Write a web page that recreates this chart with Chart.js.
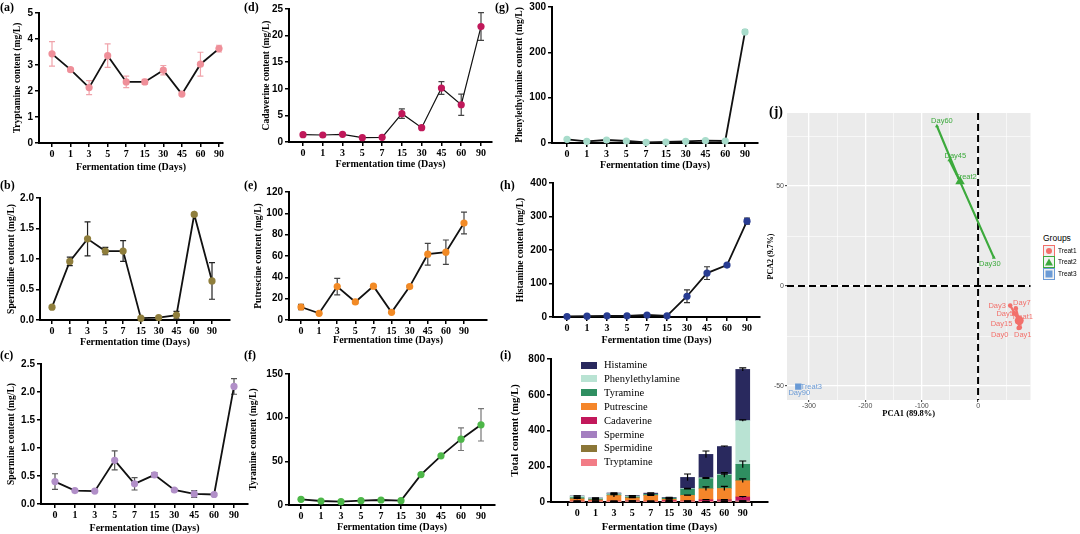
<!DOCTYPE html>
<html>
<head>
<meta charset="utf-8">
<script src="https://cdn.jsdelivr.net/npm/chart.js@4/dist/chart.umd.min.js"></script>
<style>
body{margin:0;width:1080px;height:534px;background:#fff;position:relative;overflow:hidden;font-family:"Liberation Serif",serif;}
canvas{position:absolute;}
.panel{position:absolute;font:bold 12px "Liberation Serif";line-height:12px;color:#000;}
.fila{position:absolute;height:14px;font:10.5px "Liberation Serif";line-height:14px;color:#000;white-space:nowrap;}
.fila span{display:inline-block;width:16px;height:7px;margin-right:7px;vertical-align:-0.5px;}
.grp{position:absolute;font:6.5px "Liberation Sans";color:#000;line-height:12px;}
.caja{position:absolute;width:10px;height:10px;border:1.5px solid;background:#f2f2f2;}
</style>
</head>
<body>
<script>
// dias de fermentacion (eje x de todos los paneles)
var dias = ["0", "1", "3", "5", "7", "15", "30", "45", "60", "90"];

// medias y desviaciones (mg/L)
var triptamina   = [3.43, 2.82, 2.13, 3.36, 2.35, 2.35, 2.80, 1.88, 3.03, 3.63];
var triptaminaDE = [0.47, 0.05, 0.27, 0.45, 0.22, 0.10, 0.18, 0.05, 0.46, 0.13];
var espermidina   = [0.21, 0.96, 1.33, 1.13, 1.13, 0.03, 0.04, 0.08, 1.73, 0.64];
var espermidinaDE = [0.01, 0.07, 0.28, 0.06, 0.17, 0.01, 0.01, 0.06, 0.02, 0.30];
var espermina   = [0.40, 0.24, 0.23, 0.78, 0.36, 0.52, 0.25, 0.18, 0.17, 2.10];
var esperminaDE = [0.14, 0.01, 0.01, 0.17, 0.11, 0.04, 0.02, 0.06, 0.02, 0.14];
var cadaverina   = [1.38, 1.32, 1.44, 0.81, 0.88, 5.33, 2.69, 10.15, 7.0, 21.7];
var cadaverinaDE = [0.1, 0.1, 0.1, 0.1, 0.1, 0.9, 0.2, 1.2, 2.0, 2.6];
var putrescina   = [12.2, 6.3, 31.3, 16.9, 31.7, 7.2, 31.3, 61.7, 63.6, 90.9];
var putrescinaDE = [2.5, 0.5, 7.8, 1.0, 0.8, 1.0, 1.0, 10.2, 11.4, 10.2];
var tiramina   = [6.5, 4.6, 3.8, 5.0, 5.7, 5.0, 34.8, 56.3, 75.4, 91.8];
var tiraminaDE = [0.5, 0.3, 0.3, 0.3, 0.3, 0.3, 1.5, 1.5, 13.0, 18.5];
var feniletilamina   = [8.1, 3.7, 6.6, 4.4, 1.5, 2.2, 3.7, 5.1, 4.4, 245];
var feniletilaminaDE = [1.0, 0.5, 0.5, 0.5, 0.3, 0.3, 0.5, 0.5, 0.5, 4.0];
var histamina   = [1.5, 2.5, 3.5, 3.5, 6.0, 3.5, 62, 131, 155, 286];
var histaminaDE = [0.5, 0.5, 0.5, 0.5, 1.0, 0.5, 19, 19, 3, 9];

// nombres para la grafica apilada (de abajo hacia arriba)
var aminas = ["Tryptamine", "Spermidine", "Spermine", "Cadaverine", "Putrescine", "Tyramine", "Phenylethylamine", "Histamine"];

// PCA: puntos por grupo y centroides
var grupos = ["Treat1", "Treat2", "Treat3"];
var pcaDias1 = ["Day0", "Day1", "Day3", "Day5", "Day7", "Day15"];
var pcaX1 = [72, 74, 57, 64, 67, 70];
var pcaY1 = [-21, -20.8, -9.8, -13.7, -11.2, -18];
var pcaDias2 = ["Day30", "Day45", "Day60"];
var pcaX2 = [28, -51, -73];
var pcaY2 = [14.2, 63, 80];
var pcaDias3 = ["Day90"];
var pcaX3 = [-319];
var pcaY3 = [-50.3];
var centroX = [73, -32, -319];
var centroY = [-17.3, 52.2, -50.3];

Chart.defaults.font.family = "Liberation Serif";
Chart.defaults.color = "#000";

document.addEventListener("DOMContentLoaded", function(){
    graficarTodo();
});

function crearLienzo(izq, sup, ancho, alto){
    var c = document.createElement("canvas");
    c.width = ancho;
    c.height = alto;
    c.style.left = izq + "px";
    c.style.top = sup + "px";
    document.body.appendChild(c);
    return c;
}

function etiquetaPanel(texto, izq, sup, tam){
    var d = document.createElement("div");
    d.className = "panel";
    d.textContent = texto;
    d.style.left = izq + "px";
    d.style.top = sup + "px";
    if(tam){ d.style.fontSize = tam + "px"; d.style.lineHeight = tam + "px"; }
    document.body.appendChild(d);
}

// barras de error para las lineas (debajo de la linea y los puntos)
var barrasError = {
    id: "barrasError",
    beforeDatasetsDraw: function(chart){
        var ctx = chart.ctx;
        var ey = chart.scales.y;
        chart.data.datasets.forEach(function(ds, k){
            if(!ds.desv) return;
            var meta = chart.getDatasetMeta(k);
            ctx.save();
            ctx.strokeStyle = ds.colorError;
            ctx.lineWidth = 1.2;
            meta.data.forEach(function(pt, i){
                var v = ds.data[i].y;
                var d = ds.desv[i];
                var y1 = ey.getPixelForValue(v + d);
                var y2 = ey.getPixelForValue(Math.max(v - d, 0));
                if(y2 - y1 < 2) return;
                ctx.beginPath();
                ctx.moveTo(pt.x, y1); ctx.lineTo(pt.x, y2);
                ctx.moveTo(pt.x - 3, y1); ctx.lineTo(pt.x + 3, y1);
                ctx.moveTo(pt.x - 3, y2); ctx.lineTo(pt.x + 3, y2);
                ctx.stroke();
            });
            ctx.restore();
        });
    }
};

// barras de error en la grafica apilada (arriba de cada segmento)
var barrasErrorApiladas = {
    id: "barrasErrorApiladas",
    afterDatasetsDraw: function(chart){
        var ctx = chart.ctx;
        var ey = chart.scales.y;
        var acumulado = dias.map(function(){ return 0; });
        ctx.save();
        ctx.strokeStyle = "#000";
        ctx.lineWidth = 1.2;
        chart.data.datasets.forEach(function(ds, k){
            var meta = chart.getDatasetMeta(k);
            meta.data.forEach(function(barra, i){
                acumulado[i] += ds.data[i].y;
                var d = ds.desv[i];
                var y1 = ey.getPixelForValue(acumulado[i] + d);
                var y2 = ey.getPixelForValue(Math.max(acumulado[i] - d, 0));
                ctx.beginPath();
                ctx.moveTo(barra.x, y1); ctx.lineTo(barra.x, y2);
                ctx.moveTo(barra.x - 3.5, y1); ctx.lineTo(barra.x + 3.5, y1);
                ctx.stroke();
            });
        });
        ctx.restore();
    }
};

function ejesComunes(p, anchoY, altoX, tituloY, tamTituloX){
    var sep = (p.tic9 - p.tic0) / 9;
    var tamY = 9.5;
    return {
        x: {
            type: "linear",
            min: -(p.tic0 - p.ejeX) / sep,
            max: 9 + (p.finX - p.tic9) / sep,
            afterBuildTicks: function(s){ s.ticks = dias.map(function(d, i){ return {value: i}; }); },
            afterFit: function(s){ s.height = altoX; },
            ticks: {
                autoSkip: false, maxRotation: 0, padding: 1,
                font: {family: "Liberation Serif", weight: "bold", size: 10},
                callback: function(v){ return dias[v]; }
            },
            grid: {drawOnChartArea: false, tickLength: 4, color: "#000", lineWidth: 1.5},
            border: {color: "#000", width: 2},
            title: {
                display: true, text: "Fermentation time (Days)",
                font: {family: "Liberation Serif", weight: "bold", size: tamTituloX},
                padding: {top: 0, bottom: altoX - p.offX - tamTituloX * 0.6}
            }
        },
        y: {
            min: 0, max: p.max,
            afterFit: function(s){ s.width = anchoY; },
            ticks: {
                stepSize: p.paso, padding: 2,
                font: {family: "Liberation Sans", weight: "bold", size: 10},
                callback: function(v){ return p.paso < 1 ? v.toFixed(1) : String(v); }
            },
            grid: {drawOnChartArea: false, tickLength: 4, color: "#000", lineWidth: 1.5},
            border: {color: "#000", width: 2},
            title: {
                display: true, text: tituloY,
                font: {family: "Liberation Serif", weight: "bold", size: tamY},
                padding: {top: anchoY - p.offY - tamY * 0.6, bottom: 0}
            }
        }
    };
}

function graficarLinea(p, valores, desv, colorPunto, colorError, tituloY, grosor){
    var anchoY = p.offY + 9;
    var altoX = p.offX + 8;
    var izq = p.ejeX - anchoY;
    var sup = p.arriba - 10;
    var lienzo = crearLienzo(izq, sup, p.finX - izq + 8, p.ejeY - sup + altoX);
    var puntos = valores.map(function(v, i){ return {x: i, y: v}; });

    new Chart(lienzo, {
        type: "line",
        data: {
            datasets: [{
                data: puntos,
                borderColor: "#111",
                borderWidth: grosor || 1.8,
                pointRadius: 3.6,
                pointBackgroundColor: colorPunto,
                pointBorderColor: colorPunto,
                pointBorderWidth: 0,
                tension: 0,
                clip: false,
                desv: desv,
                colorError: colorError
            }]
        },
        options: {
            responsive: false, animation: false, devicePixelRatio: 1,
            layout: {padding: {top: 10, right: 8, left: 0, bottom: 0}},
            plugins: {legend: {display: false}, tooltip: {enabled: false}},
            scales: ejesComunes(p, anchoY, altoX, tituloY, 10)
        },
        plugins: [barrasError]
    });
}

function graficarApilada(p){
    var series = [triptamina, espermidina, espermina, cadaverina, putrescina, tiramina, feniletilamina, histamina];
    var seriesDE = [triptaminaDE, espermidinaDE, esperminaDE, cadaverinaDE, putrescinaDE, tiraminaDE, feniletilaminaDE, histaminaDE];
    var colores = ["#F27C86", "#8B7637", "#A47FC0", "#C2185B", "#F5862A", "#2F8F61", "#B9E3D3", "#29295E"];

    var anchoY = p.offY + 9;
    var altoX = p.offX + 8;
    var izq = p.ejeX - anchoY;
    var sup = p.arriba - 10;
    var lienzo = crearLienzo(izq, sup, p.finX - izq + 8, p.ejeY - sup + altoX);

    var conjuntos = aminas.map(function(nombre, k){
        return {
            label: nombre,
            data: series[k].map(function(v, i){ return {x: i, y: v}; }),
            backgroundColor: colores[k],
            barThickness: 14,
            grouped: false,
            desv: seriesDE[k]
        };
    });

    var escalas = ejesComunes(p, anchoY, altoX, "Total content (mg/L)", 10.5);
    escalas.y.stacked = true;
    escalas.y.title.font.size = 10.5;

    new Chart(lienzo, {
        type: "bar",
        data: {datasets: conjuntos},
        options: {
            responsive: false, animation: false, devicePixelRatio: 1,
            layout: {padding: {top: 10, right: 8, left: 0, bottom: 0}},
            plugins: {legend: {display: false}, tooltip: {enabled: false}},
            scales: escalas
        },
        plugins: [barrasErrorApiladas]
    });

    // leyenda dentro del area, en orden inverso
    var i;
    for(i = aminas.length - 1; i >= 0; i--){
        var fila = document.createElement("div");
        fila.className = "fila";
        fila.style.left = "581px";
        fila.style.top = (358 + (aminas.length - 1 - i) * 13.9) + "px";
        var muestra = document.createElement("span");
        muestra.style.background = colores[i];
        fila.appendChild(muestra);
        fila.appendChild(document.createTextNode(aminas[i]));
        document.body.appendChild(fila);
    }
}

function graficarPCA(){
    var colorGrupo = ["#F2706B", "#3DAA3D", "#6B9BD6"];
    var estilos = ["circle", "triangle", "rect"];
    var diasG = [pcaDias1, pcaDias2, pcaDias3];
    var xs = [pcaX1, pcaX2, pcaX3];
    var ys = [pcaY1, pcaY2, pcaY3];
    // desplazamientos de las etiquetas en pixeles
    var dxDias = [[-19, 3, -13, -9, 6, -16], [-4, 6, 5], [1]];
    var dyDias = [[7, 7, 0, 1, -5, 2], [6, -4, -5], [6]];
    var dxCentro = [3, 6, 13];
    var dyCentro = [-4, -5, 0];

    var conjuntos = [];
    grupos.forEach(function(g, k){
        var estrella = [];
        xs[k].forEach(function(x, i){
            estrella.push({x: centroX[k], y: centroY[k]});
            estrella.push({x: x, y: ys[k][i]});
        });
        conjuntos.push({
            data: estrella, showLine: true, borderColor: colorGrupo[k], borderWidth: 2.2, pointRadius: 0
        });
        conjuntos.push({
            data: xs[k].map(function(x, i){ return {x: x, y: ys[k][i]}; }),
            pointStyle: estilos[k], pointRadius: 2.3, backgroundColor: colorGrupo[k], borderColor: colorGrupo[k], borderWidth: 0
        });
        conjuntos.push({
            data: [{x: centroX[k], y: centroY[k]}],
            pointStyle: estilos[k], pointRadius: k === 1 ? 5.5 : 4.5, backgroundColor: colorGrupo[k], borderColor: colorGrupo[k], borderWidth: 0
        });
    });

    var esMayorX = function(v){ return v % 100 === 0; };
    var esMayorY = function(v){ return v % 50 === 0; };

    var fondoYEtiquetas = {
        id: "fondoYEtiquetas",
        beforeDraw: function(chart){
            var a = chart.chartArea;
            chart.ctx.save();
            chart.ctx.fillStyle = "#EBEBEB";
            chart.ctx.fillRect(a.left, a.top, a.right - a.left, a.bottom - a.top);
            chart.ctx.restore();
        },
        beforeDatasetsDraw: function(chart){
            var ctx = chart.ctx, a = chart.chartArea;
            var x0 = chart.scales.x.getPixelForValue(0);
            var y0 = chart.scales.y.getPixelForValue(0);
            ctx.save();
            ctx.setLineDash([7, 4]);
            ctx.lineWidth = 2;
            ctx.strokeStyle = "#000";
            ctx.beginPath();
            ctx.moveTo(x0, a.top); ctx.lineTo(x0, a.bottom);
            ctx.moveTo(a.left, y0); ctx.lineTo(a.right, y0);
            ctx.stroke();
            ctx.restore();
        },
        afterDatasetsDraw: function(chart){
            var ctx = chart.ctx, sx = chart.scales.x, sy = chart.scales.y;
            ctx.save();
            ctx.font = "7.5px 'Liberation Sans'";
            ctx.textAlign = "center";
            ctx.textBaseline = "middle";
            grupos.forEach(function(g, k){
                ctx.fillStyle = colorGrupo[k];
                diasG[k].forEach(function(d, i){
                    ctx.fillText(d, sx.getPixelForValue(xs[k][i]) + dxDias[k][i], sy.getPixelForValue(ys[k][i]) + dyDias[k][i]);
                });
                ctx.fillText(g, sx.getPixelForValue(centroX[k]) + dxCentro[k], sy.getPixelForValue(centroY[k]) + dyCentro[k]);
            });
            ctx.restore();
        }
    };

    var lienzo = crearLienzo(760, 103, 276, 317);
    new Chart(lienzo, {
        type: "scatter",
        data: {datasets: conjuntos},
        options: {
            responsive: false, animation: false, devicePixelRatio: 1,
            layout: {padding: {top: 10, right: 3, left: 0, bottom: 0}},
            plugins: {legend: {display: false}, tooltip: {enabled: false}},
            scales: {
                x: {
                    min: -339, max: 93,
                    afterBuildTicks: function(s){ s.ticks = [-300, -250, -200, -150, -100, -50, 0, 50].map(function(v){ return {value: v}; }); },
                    afterFit: function(s){ s.height = 20; },
                    ticks: {
                        padding: 0, color: "#4D4D4D", font: {family: "Liberation Sans", size: 7},
                        callback: function(v){ return esMayorX(v) ? String(v) : ""; }
                    },
                    grid: {
                        color: "#fff", tickLength: 2,
                        lineWidth: function(c){ return c.tick && esMayorX(c.tick.value) ? 1.3 : 0.6; },
                        tickColor: function(c){ return c.tick && esMayorX(c.tick.value) ? "#333" : "rgba(0,0,0,0)"; },
                        tickWidth: 1
                    },
                    border: {display: false},
                    title: {display: true, text: "PCA1 (89.8%)", font: {family: "Liberation Serif", weight: "bold", size: 8.5}, padding: {top: 0, bottom: 1.5}}
                },
                y: {
                    min: -57, max: 86.5,
                    afterBuildTicks: function(s){ s.ticks = [-50, -25, 0, 25, 50, 75].map(function(v){ return {value: v}; }); },
                    afterFit: function(s){ s.width = 27; },
                    ticks: {
                        padding: 1, color: "#4D4D4D", font: {family: "Liberation Sans", size: 7},
                        callback: function(v){ return esMayorY(v) ? String(v) : ""; }
                    },
                    grid: {
                        color: "#fff", tickLength: 2,
                        lineWidth: function(c){ return c.tick && esMayorY(c.tick.value) ? 1.3 : 0.6; },
                        tickColor: function(c){ return c.tick && esMayorY(c.tick.value) ? "#333" : "rgba(0,0,0,0)"; },
                        tickWidth: 1
                    },
                    border: {display: false},
                    title: {display: true, text: "PCA2 (9.7%)", font: {family: "Liberation Serif", weight: "bold", size: 8}, padding: {top: 6, bottom: 0}}
                }
            }
        },
        plugins: [fondoYEtiquetas]
    });

    // leyenda de grupos
    var t = document.createElement("div");
    t.className = "grp";
    t.style.cssText = "left:1043px;top:232px;font-size:8.5px;";
    t.textContent = "Groups";
    document.body.appendChild(t);
    var formas = ["border-radius:50%;width:6px;height:6px;", "width:0;height:0;border-left:4px solid transparent;border-right:4px solid transparent;border-bottom:7px solid ", "width:7px;height:7px;"];
    grupos.forEach(function(g, k){
        var caja = document.createElement("div");
        caja.className = "caja";
        caja.style.left = "1043px";
        caja.style.top = (245 + k * 11.3) + "px";
        caja.style.borderColor = colorGrupo[k];
        var forma = document.createElement("div");
        forma.style.cssText = "position:absolute;left:50%;top:50%;transform:translate(-50%,-50%);" +
            (k === 1 ? formas[1] + colorGrupo[k] + ";" : formas[k] + "background:" + colorGrupo[k] + ";");
        caja.appendChild(forma);
        document.body.appendChild(caja);
        var texto = document.createElement("div");
        texto.className = "grp";
        texto.style.left = "1058px";
        texto.style.top = (245 + k * 11.3) + "px";
        texto.textContent = g;
        document.body.appendChild(texto);
    });
}

function graficarTodo(){
    graficarLinea({ejeX: 39, finX: 223, tic0: 52, tic9: 219, arriba: 13, ejeY: 143, max: 5, paso: 1, offY: 21, offX: 24},
        triptamina, triptaminaDE, "#EF8F99", "#F0A3AA", "Tryptamine content (mg/L)");
    graficarLinea({ejeX: 40, finX: 230, tic0: 52, tic9: 212, arriba: 198, ejeY: 320, max: 2, paso: 0.5, offY: 28, offX: 22},
        espermidina, espermidinaDE, "#8F7E3C", "#222", "Spermidine content (mg/L)");
    graficarLinea({ejeX: 41, finX: 248, tic0: 55, tic9: 234, arriba: 364, ejeY: 504, max: 2.5, paso: 0.5, offY: 29, offX: 24},
        espermina, esperminaDE, "#B18FC8", "#555", "Spermine content (mg/L)");
    graficarLinea({ejeX: 289, finX: 492, tic0: 303, tic9: 481, arriba: 9, ejeY: 142, max: 25, paso: 5, offY: 22, offX: 22},
        cadaverina, cadaverinaDE, "#C0185A", "#444", "Cadaverine content (mg/L)", 1.2);
    graficarLinea({ejeX: 289, finX: 487, tic0: 301, tic9: 464, arriba: 192, ejeY: 320, max: 120, paso: 20, offY: 30, offX: 20},
        putrescina, putrescinaDE, "#F28A25", "#444", "Putrescine content (mg/L)");
    graficarLinea({ejeX: 289, finX: 495, tic0: 301, tic9: 481, arriba: 374, ejeY: 505, max: 150, paso: 50, offY: 35, offX: 22},
        tiramina, tiraminaDE, "#4DB748", "#777", "Tyramine content (mg/L)");
    graficarLinea({ejeX: 552, finX: 758, tic0: 567, tic9: 745, arriba: 7, ejeY: 143, max: 300, paso: 100, offY: 32, offX: 22},
        feniletilamina, feniletilaminaDE, "#A8DCCB", "#555", "Phenylethylamine content (mg/L)");
    graficarLinea({ejeX: 553, finX: 760, tic0: 567, tic9: 747, arriba: 183, ejeY: 317, max: 400, paso: 100, offY: 32, offX: 23},
        histamina, histaminaDE, "#283C92", "#333", "Histamine content (mg/L)");
    graficarApilada({ejeX: 551, finX: 768, tic0: 568, tic9: 752, arriba: 359, ejeY: 502, max: 800, paso: 200, offY: 36, offX: 25});
    graficarPCA();

    etiquetaPanel("(a)", 0, 1);
    etiquetaPanel("(b)", 0, 179);
    etiquetaPanel("(c)", 0, 349);
    etiquetaPanel("(d)", 244, 1);
    etiquetaPanel("(e)", 244, 179);
    etiquetaPanel("(f)", 244, 349);
    etiquetaPanel("(g)", 495, 1);
    etiquetaPanel("(h)", 500, 179);
    etiquetaPanel("(i)", 500, 349);
    etiquetaPanel("(j)", 769, 105, 14);
}
</script>
</body>
</html>
